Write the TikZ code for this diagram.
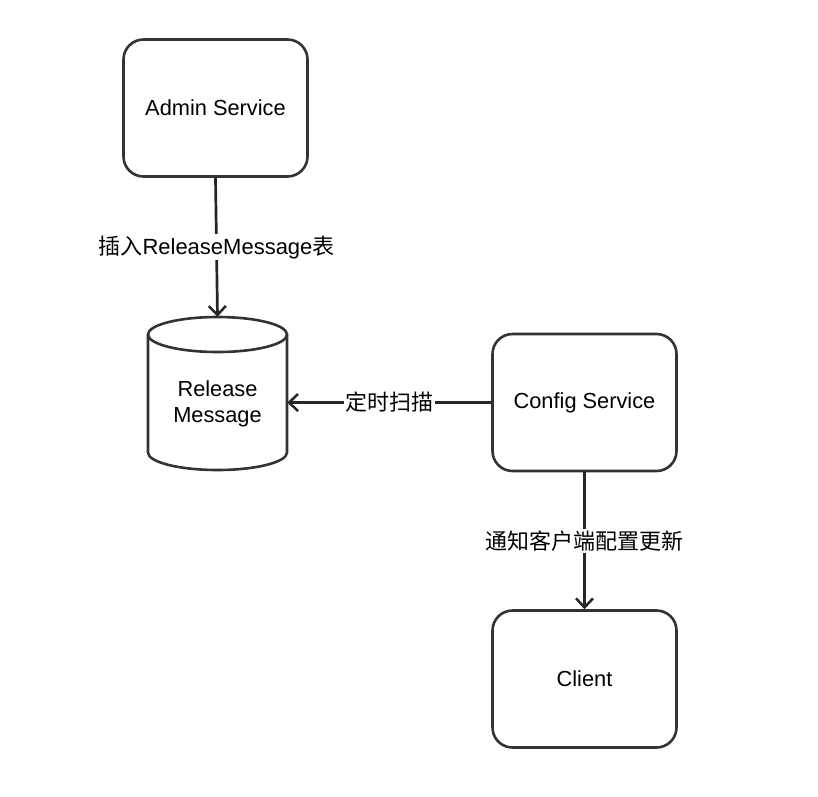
\documentclass[tikz,border=0pt]{standalone}
\usepackage{fontspec}
\setmainfont{Liberation Sans}
\newfontfamily\cjk{Noto Sans CJK SC}
\usetikzlibrary{arrows.meta}
\begin{document}
\begin{tikzpicture}[x=1pt,y=-1pt,
  box/.style={draw=black!80, line width=2.6pt, rounded corners=20pt, fill=white,
    minimum width=184pt, minimum height=137pt, inner sep=0pt, font=\fontsize{21.8}{26}\selectfont},
  conn/.style={draw=black!85, line width=2.7pt, -{Straight Barb[length=9pt,width=17pt,line width=2.5pt]}},
  lbl/.style={fill=white, inner sep=1.5pt, font=\fontsize{22}{26}\selectfont}]
\useasboundingbox (0,0) rectangle (818,796);
\node[box] (admin) at (215.5,108) {Admin Service};
\node[box] (config) at (584.5,402.5) {Config Service};
\node[box] (client) at (584.5,679) {Client};
\node[minimum width=139pt, minimum height=153pt, inner sep=0pt] (rm) at (217.5,393.5) {};
\draw[draw=black!80, line width=2.6pt, fill=white]
  (148,334.5) -- (148,452.5) arc[start angle=180, end angle=360, x radius=69.5, y radius=-17.5]
  -- (287,334.5);
\draw[draw=black!80, line width=2.6pt] (217.5,334.5) ellipse[x radius=69.5, y radius=17.5];
\node[align=center, font=\fontsize{21.8}{26}\selectfont] (rmtext) at (217.5,403.5) {Release\\Message};
\draw[conn] (admin.south) -- node[lbl] {{\cjk 插入}ReleaseMessage{\cjk 表}} (rm.north);
\draw[conn] (config.west) -- node[lbl] {\cjk 定时扫描} (rm.east |- config.west);
\draw[conn] (config.south) -- node[lbl] {\cjk 通知客户端配置更新} (client.north);
\end{tikzpicture}
\end{document}
